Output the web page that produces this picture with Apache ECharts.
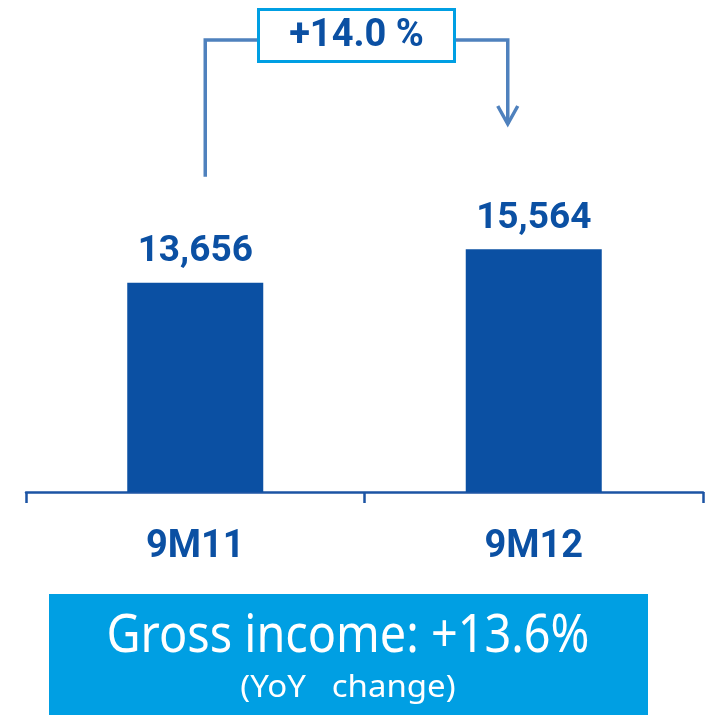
<!DOCTYPE html>
<html>
<head>
<meta charset="utf-8">
<script src="https://cdn.jsdelivr.net/npm/echarts@6/dist/echarts.min.js"></script>
<style>
  html, body { margin: 0; padding: 0; background: #fff; }
  #chart { width: 705px; height: 715px; }
</style>
</head>
<body>
<div id="chart"></div>
<script>
const categories = ['9M11', '9M12']
const values = [13656, 15564]
const growthLabel = '+14.0 %'
const summaryTitle = 'Gross income: +13.6%'
const summaryNote = '(YoY   change)'

const BAR_BLUE = '#0b50a3'
const LINE_BLUE = '#4f81bd'
const CYAN = '#009fe3'

const chart = echarts.init(document.getElementById('chart'), undefined, { renderer: 'canvas' })

chart.setOption({
  animation: false,
  grid: { left: 26, right: 2, top: 0, bottom: 223 },
  xAxis: {
    type: 'category',
    data: categories,
    axisLine: { lineStyle: { color: '#1c54a4', width: 2.5 } },
    axisTick: {
      show: true,
      alignWithLabel: false,
      interval: 0,
      length: 11,
      lineStyle: { color: '#1c54a4', width: 2.5 },
    },
    axisLabel: {
      margin: 35,
      color: BAR_BLUE,
      fontFamily: 'Roboto',
      fontWeight: 'bold',
      fontSize: 38,
      lineHeight: 40,
    },
  },
  yAxis: {
    type: 'value',
    min: 1700,
    max: 29800,
    show: false,
    splitLine: { show: false },
  },
  series: [
    {
      type: 'bar',
      data: values,
      barWidth: 136,
      itemStyle: { color: BAR_BLUE },
      label: {
        show: true,
        position: 'top',
        distance: 12,
        color: BAR_BLUE,
        fontFamily: 'Roboto',
        fontWeight: 'bold',
        fontSize: 37,
        formatter: p => p.value.toLocaleString('en-US'),
      },
    },
  ],
})

// bracket annotation placed from the bar positions
const p1 = chart.convertToPixel({ seriesIndex: 0 }, [0, values[0]])
const p2 = chart.convertToPixel({ seriesIndex: 0 }, [1, values[1]])
const xl = p1[0] + 10
const xr = p2[0] - 26
const yTop = 40
const yl = p1[1] - 106
const yArrow = 124
const cx = (xl + xr) / 2

chart.setOption({
  graphic: [
    {
      type: 'polyline',
      shape: { points: [[xl, yl], [xl, yTop], [xr, yTop], [xr, yArrow]] },
      style: { stroke: LINE_BLUE, lineWidth: 3.5, fill: null },
      z: 10,
    },
    {
      type: 'polyline',
      shape: { points: [[xr - 10, yArrow - 18], [xr, yArrow], [xr + 10, yArrow - 18]] },
      style: { stroke: LINE_BLUE, lineWidth: 3.5, fill: null },
      z: 10,
    },
    {
      type: 'rect',
      shape: { x: cx - 98, y: 9.5, width: 196, height: 52 },
      style: { fill: '#fff', stroke: CYAN, lineWidth: 3 },
      z: 11,
    },
    {
      type: 'text',
      x: cx,
      y: 36,
      style: {
        text: growthLabel,
        fill: BAR_BLUE,
        font: 'bold 38px Roboto',
        textAlign: 'center',
        textVerticalAlign: 'middle',
      },
      z: 12,
    },
    {
      type: 'rect',
      shape: { x: 49, y: 594, width: 599, height: 121 },
      style: { fill: CYAN },
      z: 10,
    },
    {
      type: 'group',
      x: 348,
      y: 637,
      scaleX: 0.9,
      children: [
        {
          type: 'text',
          z: 12,
          style: {
            text: summaryTitle,
            fill: '#fff',
            font: '52px "Noto Sans"',
            textAlign: 'center',
            textVerticalAlign: 'middle',
          },
        },
      ],
    },
    {
      type: 'group',
      x: 348,
      y: 688,
      scaleX: 1.1,
      children: [
        {
          type: 'text',
          z: 12,
          style: {
            text: summaryNote,
            fill: '#fff',
            font: '30px "Noto Sans"',
            textAlign: 'center',
            textVerticalAlign: 'middle',
          },
        },
      ],
    },
  ],
})

window.addEventListener('resize', () => chart.resize())
</script>
</body>
</html>
